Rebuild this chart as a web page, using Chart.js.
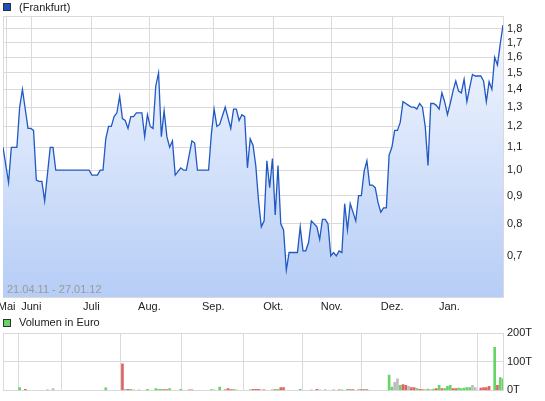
<!DOCTYPE html>
<html>
<head>
<meta charset="utf-8">
<script src="https://cdn.jsdelivr.net/npm/chart.js@4.4.1/dist/chart.umd.min.js"></script>
<style>
  body { margin: 0; background: #fff; width: 545px; height: 401px; overflow: hidden; position: relative; font-family: "Liberation Sans", Arial, sans-serif; }
  canvas { position: absolute; left: 0; }
  #priceChart { top: 0; }
  #volumeChart { top: 315px; }
  .legend { position: absolute; left: 0; font-size: 11px; color: #222; z-index: 2; }
  .legend .box { position: absolute; left: 3px; width: 6px; height: 6px; border: 1px solid #333; }
  .legend span.txt { position: absolute; left: 19px; white-space: nowrap; }
</style>
</head>
<body>
<div class="legend" style="top:0px;">
  <div class="box" style="top:3px; background:#1f4fb8;"></div>
  <span class="txt" style="top:1px;">(Frankfurt)</span>
</div>
<div class="legend" style="top:315px;">
  <div class="box" style="top:4px; background:#66d466;"></div>
  <span class="txt" style="top:1px;">Volumen in Euro</span>
</div>
<canvas id="priceChart" width="545" height="316"></canvas>
<canvas id="volumeChart" width="545" height="86"></canvas>
<script>
// Trading day index (0 = 21.04.11) and closing price in EUR
const days = [
  0, 2, 3, 5, 6, 7, 9, 10, 11, 12, 13, 14, 15, 17, 18, 19, 31, 32, 34, 35,
  36, 37, 38, 39, 40, 41, 42, 43, 44, 45, 46, 47, 48, 50, 51, 52, 53, 54, 55, 56,
  57, 58, 59, 60, 61, 62, 64, 65, 66, 68, 69, 70, 74, 75, 76, 77, 78, 80, 82, 83,
  84, 85, 86, 87, 88, 89, 90, 91, 92, 93, 94, 95, 96, 97, 98, 99, 100, 101, 102, 103,
  106, 107, 108, 109, 110, 111, 113, 114, 115, 116, 117, 118, 119, 120, 121, 122, 123, 124, 125, 126,
  127, 128, 129, 130, 131, 132, 133, 134, 135, 136, 137, 138, 139, 140, 141, 142, 143, 144, 145, 146,
  147, 148, 149, 150, 151, 152, 153, 154, 155, 156, 157, 158, 159, 160, 161, 162, 163, 164, 165, 166,
  167, 168, 169, 170, 172, 173, 174, 175, 176, 177, 178, 179, 180
];
const prices = [
  1.10, 0.95, 1.10, 1.10, 1.30, 1.40, 1.19, 1.19, 1.18, 0.96, 0.955, 0.955, 0.88, 1.10, 1.10, 1.00, 1.00, 0.98, 0.98, 1.00,
  1.00, 1.14, 1.20, 1.20, 1.25, 1.27, 1.36, 1.24, 1.23, 1.19, 1.25, 1.25, 1.27, 1.27, 1.15, 1.26, 1.20, 1.19, 1.42, 1.50,
  1.15, 1.28, 1.15, 1.10, 1.13, 0.98, 1.01, 1.00, 1.00, 1.13, 1.12, 1.00, 1.00, 1.16, 1.29, 1.20, 1.21, 1.30, 1.19, 1.29,
  1.29, 1.23, 1.26, 1.25, 1.01, 1.14, 1.11, 1.02, 0.88, 0.79, 0.81, 1.04, 0.93, 1.05, 0.83, 1.02, 0.80, 0.78, 0.66, 0.71,
  0.71, 0.79, 0.715, 0.715, 0.74, 0.81, 0.79, 0.75, 0.815, 0.815, 0.80, 0.70, 0.71, 0.70, 0.715, 0.71, 0.87, 0.78, 0.87, 0.84,
  0.81, 0.90, 0.90, 0.995, 1.04, 0.94, 0.94, 0.93, 0.875, 0.84, 0.855, 0.855, 1.065, 1.10, 1.18, 1.18, 1.22, 1.33, 1.32, 1.31,
  1.30, 1.30, 1.29, 1.32, 1.30, 1.20, 1.02, 1.32, 1.32, 1.31, 1.29, 1.38, 1.33, 1.26, 1.32, 1.39, 1.45, 1.39, 1.38, 1.46,
  1.33, 1.41, 1.49, 1.48, 1.48, 1.45, 1.33, 1.445, 1.40, 1.60, 1.55, 1.69, 1.83
];

// Volume in thousand EUR, trend: 1 up, -1 down, 0 unchanged
const volDays = [
  6, 8, 16, 18, 37, 43, 44, 45, 46, 47, 49, 52, 55, 56, 57, 58, 59, 60, 64, 67,
  68, 75, 76, 78, 80, 81, 82, 83, 84, 89, 90, 91, 92, 93, 94, 97, 98, 99, 100, 101,
  107, 111, 113, 114, 116, 119, 121, 122, 124, 125, 126, 128, 129, 130, 131, 139, 140, 141, 142, 143,
  144, 145, 146, 147, 148, 149, 150, 151, 152, 153, 154, 155, 156, 157, 158, 159, 160, 161, 162, 163,
  164, 165, 166, 167, 168, 169, 170, 172, 173, 174, 175, 177, 178, 179, 180
];
const volumes = [
  10, 4, 2, 6, 9, 93, 4, 4, 4, 2, 2, 4, 6, 4, 4, 3, 3, 6, 4, 2,
  2, 3, 2, 12, 2, 6, 3, 4, 2, 2, 4, 4, 4, 2, 2, 2, 3, 4, 10, 10,
  4, 2, 4, 2, 3, 2, 2, 2, 4, 3, 3, 4, 3, 4, 3, 53, 12, 28, 40, 18,
  20, 18, 14, 10, 10, 6, 4, 3, 3, 5, 3, 5, 6, 18, 6, 6, 14, 18, 6, 6,
  8, 6, 8, 10, 10, 18, 10, 8, 10, 10, 14, 150, 18, 45, 40
];
const volTrend = [
  1, -1, 1, 0, 1, -1, 0, -1, 1, 0, 0, 1, 1, 1, 1, -1, -1, 1, 1, -1,
  -1, 1, 0, 1, -1, -1, -1, 1, 0, 1, -1, -1, -1, 0, -1, 1, -1, 1, -1, -1,
  1, 0, -1, 0, 0, 1, -1, 1, 1, -1, -1, 0, -1, 1, -1, 1, 1, 0, 0, 1,
  -1, -1, 0, -1, -1, 1, -1, -1, 0, 1, 0, 1, -1, 1, -1, 1, 1, 1, -1, -1,
  1, 1, 1, 1, 1, 0, 0, -1, -1, -1, -1, 1, -1, 1, 1
];

// Month labels and where each month starts on the trading day axis
const monthLabels = ['Mai', 'Juni', 'Juli', 'Aug.', 'Sep.', 'Okt.', 'Nov.', 'Dez.', 'Jan.'];
const monthStarts = [1.3, 10.2, 31.8, 52.7, 75.7, 97.3, 118.3, 140.1, 160.7];
const priceTicks = [0.7, 0.8, 0.9, 1.0, 1.1, 1.2, 1.3, 1.4, 1.5, 1.6, 1.7, 1.8];
const volumeTicks = [0, 100, 200];
const dateRange = '21.04.11 - 27.01.12';

Chart.defaults.font.family = '"Liberation Sans", Arial, sans-serif';
Chart.defaults.font.size = 11;
Chart.defaults.color = '#222';

const gridColor = '#dadada';

// Light frame around the plot area
const framePlugin = {
  id: 'frame',
  beforeDatasetsDraw(chart) {
    const a = chart.chartArea;
    const ctx = chart.ctx;
    ctx.save();
    ctx.strokeStyle = gridColor;
    ctx.lineWidth = 1;
    ctx.strokeRect(Math.round(a.left) + 0.5, Math.round(a.top) + 0.5, Math.round(a.right - a.left), Math.round(a.bottom - a.top));
    ctx.restore();
  }
};

// Date range caption in the lower left corner
const rangePlugin = {
  id: 'range',
  afterDatasetsDraw(chart) {
    const a = chart.chartArea;
    const ctx = chart.ctx;
    ctx.save();
    ctx.fillStyle = '#9a9a9a';
    ctx.font = '11px "Liberation Sans", Arial, sans-serif';
    ctx.textBaseline = 'alphabetic';
    ctx.fillText(dateRange, a.left + 4, a.bottom - 4);
    ctx.restore();
  }
};

function monthAxis(showLabels, height) {
  return {
    type: 'linear',
    min: 0,
    max: 180,
    offset: false,
    afterBuildTicks: (scale) => { scale.ticks = monthStarts.map(v => ({ value: v })); },
    // fixed height, and no extra room for the outer labels
    afterFit: (scale) => {
      scale.height = height;
      scale.paddingLeft = 0;
      scale.paddingRight = 0;
    },
    ticks: {
      display: showLabels,
      autoSkip: false,
      maxRotation: 0,
      padding: 3,
      callback: (v, i) => monthLabels[i]
    },
    grid: { color: gridColor, drawTicks: false },
    border: { display: false }
  };
}

// Price chart
const priceCtx = document.getElementById('priceChart').getContext('2d');
new Chart(priceCtx, {
  type: 'line',
  data: {
    datasets: [{
      data: days.map((d, i) => ({ x: d, y: prices[i] })),
      borderColor: '#2058c4',
      borderWidth: 1.3,
      pointRadius: 0,
      tension: 0,
      fill: 'start',
      backgroundColor: (context) => {
        const area = context.chart.chartArea;
        if (!area) return '#dce7fb';
        const g = context.chart.ctx.createLinearGradient(0, area.top, 0, area.bottom);
        g.addColorStop(0, '#f6f9ff');
        g.addColorStop(1, '#b6cdf6');
        return g;
      }
    }]
  },
  options: {
    responsive: false,
    animation: false,
    devicePixelRatio: 1,
    layout: { padding: { top: 16, left: 3, right: 0, bottom: 0 }, autoPadding: false },
    plugins: { legend: { display: false }, tooltip: { enabled: false } },
    scales: {
      x: monthAxis(true, 19),
      y: {
        type: 'logarithmic',
        position: 'right',
        min: 0.59,
        max: 1.9,
        afterBuildTicks: (scale) => { scale.ticks = priceTicks.map(v => ({ value: v })); },
        afterFit: (scale) => { scale.width = 42; },
        ticks: {
          padding: 4,
          callback: (v) => v.toFixed(1).replace('.', ',')
        },
        grid: { color: gridColor, drawTicks: false },
        border: { display: false }
      }
    }
  },
  plugins: [framePlugin, rangePlugin]
});

// Volume chart
const trendColors = { '1': '#66d466', '-1': '#e06464', '0': '#bdbdbd' };
const volumeCtx = document.getElementById('volumeChart').getContext('2d');
new Chart(volumeCtx, {
  type: 'bar',
  data: {
    datasets: [{
      data: volDays.map((d, i) => ({ x: d, y: volumes[i] })),
      backgroundColor: volTrend.map(t => trendColors[t]),
      barThickness: 2,
      borderWidth: 0
    }]
  },
  options: {
    responsive: false,
    animation: false,
    devicePixelRatio: 1,
    layout: { padding: { top: 18, left: 3, right: 0, bottom: 0 }, autoPadding: false },
    plugins: { legend: { display: false }, tooltip: { enabled: false } },
    scales: {
      x: monthAxis(false, 10),
      y: {
        position: 'right',
        min: 0,
        max: 200,
        afterBuildTicks: (scale) => { scale.ticks = volumeTicks.map(v => ({ value: v })); },
        afterFit: (scale) => { scale.width = 42; },
        ticks: {
          padding: 4,
          callback: (v) => v + 'T'
        },
        grid: { color: gridColor, drawTicks: false },
        border: { display: false }
      }
    }
  },
  plugins: [framePlugin]
});
</script>
</body>
</html>
